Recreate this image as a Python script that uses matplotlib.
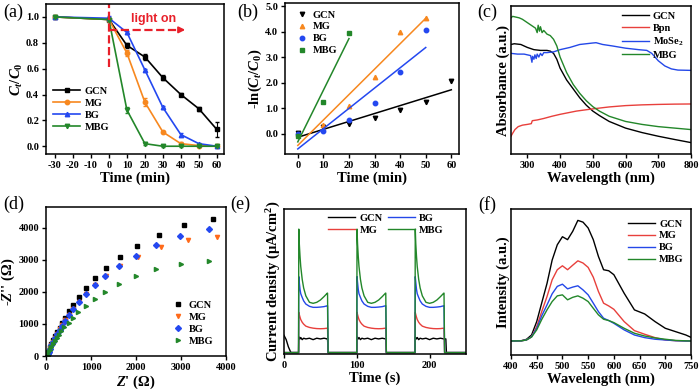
import numpy as np
import matplotlib.pyplot as plt

plt.rcParams['font.family'] = 'Liberation Serif'
plt.rcParams['font.weight'] = 'bold'
plt.rcParams['mathtext.fontset'] = 'custom'
plt.rcParams['mathtext.rm'] = 'Liberation Serif:bold'
plt.rcParams['mathtext.it'] = 'Liberation Serif:bold:italic'
plt.rcParams['mathtext.bf'] = 'Liberation Serif:bold'
plt.rcParams['axes.unicode_minus'] = False
plt.rcParams['axes.linewidth'] = 1.1
plt.rcParams['xtick.major.width'] = 1.0
plt.rcParams['ytick.major.width'] = 1.0
plt.rcParams['xtick.major.size'] = 3
plt.rcParams['ytick.major.size'] = 3
plt.rcParams['xtick.labelsize'] = 7.5
plt.rcParams['ytick.labelsize'] = 7.5

names = ['GCN', 'MG', 'BG', 'MBG']
c_dark = ['black', '#F7881F', '#2448F0', '#23872A']
c_line = ['black', '#E8403C', '#2448E8', '#23872A']

# (a) degradation
t_a = [-30, 0, 10, 20, 30, 40, 50, 60]
a_gcn = [1.0, 0.98, 0.78, 0.69, 0.53, 0.40, 0.29, 0.13]
a_mg = [1.0, 0.98, 0.72, 0.34, 0.11, 0.02, 0.005, 0.0]
a_bg = [1.0, 0.99, 0.88, 0.59, 0.30, 0.09, 0.02, 0.0]
a_mbg = [1.0, 0.98, 0.28, 0.02, 0.0, 0.0, 0.0, 0.0]
e_gcn = [0.005, 0.01, 0.02, 0.02, 0.02, 0.01, 0.015, 0.055]
e_mg = [0.005, 0.01, 0.025, 0.03, 0.01, 0.01, 0.005, 0.005]
e_bg = [0.005, 0.02, 0.01, 0.01, 0.01, 0.01, 0.005, 0.005]
e_mbg = [0.005, 0.01, 0.02, 0.01, 0.005, 0.005, 0.005, 0.005]

# (b) kinetics
t_b = [0, 10, 20, 30, 40, 50, 60]
b_gcn = [0.02, 0.25, 0.37, 0.63, 0.93, 1.24, 2.07]
b_mg = [0.0, 0.33, 1.08, 2.21, 4.0, 4.55]
b_bg = [0.0, 0.12, 0.52, 1.21, 2.42, 4.05]
b_mbg = [-0.1, 1.25, 3.95]

# (c) UV-vis absorbance
wl_gcn = [250, 260, 280, 290, 300, 320, 340, 360, 370, 380, 390, 400, 420, 440, 460, 480, 500, 520, 550, 600, 650, 700, 750, 800]
ab_gcn = [0.74, 0.745, 0.74, 0.73, 0.72, 0.705, 0.70, 0.70, 0.695, 0.68, 0.64, 0.58, 0.50, 0.44, 0.38, 0.33, 0.29, 0.26, 0.22, 0.175, 0.145, 0.12, 0.098, 0.077]
wl_bpn = [250, 255, 262, 272, 285, 300, 312, 315, 330, 350, 375, 400, 450, 500, 550, 600, 650, 700, 750, 800]
ab_bpn = [0.12, 0.14, 0.165, 0.185, 0.195, 0.2, 0.205, 0.225, 0.23, 0.24, 0.255, 0.268, 0.29, 0.305, 0.318, 0.327, 0.332, 0.335, 0.337, 0.338]
wl_mose = [250, 270, 290, 300, 310, 314, 316, 320, 323, 327, 330, 335, 340, 345, 350, 360, 380, 400, 430, 460, 480, 500, 510, 530, 560, 600, 640, 665, 680, 690, 700, 720, 740, 760, 800]
ab_mose = [0.68, 0.675, 0.675, 0.67, 0.665, 0.62, 0.66, 0.64, 0.67, 0.645, 0.675, 0.655, 0.68, 0.665, 0.685, 0.685, 0.69, 0.705, 0.72, 0.74, 0.745, 0.75, 0.752, 0.74, 0.73, 0.715, 0.705, 0.70, 0.68, 0.655, 0.63, 0.595, 0.575, 0.567, 0.565]
wl_mbg = [250, 255, 265, 275, 285, 295, 305, 315, 325, 330, 333, 337, 340, 345, 350, 360, 370, 380, 390, 400, 420, 440, 460, 480, 500, 520, 550, 600, 650, 700, 750, 800]
ab_mbg = [0.92, 0.93, 0.925, 0.92, 0.91, 0.895, 0.88, 0.865, 0.85, 0.82, 0.87, 0.83, 0.86, 0.82, 0.835, 0.81, 0.80, 0.775, 0.73, 0.655, 0.55, 0.47, 0.41, 0.36, 0.32, 0.29, 0.255, 0.22, 0.20, 0.185, 0.175, 0.165]

# (d) Nyquist
zr_gcn = [3720, 3060, 2500, 2030, 1640, 1330, 1090, 890, 740, 600, 500, 420, 350, 300, 250, 200, 160, 120, 90, 60, 40, 25]
zi_gcn = [4270, 4080, 3780, 3440, 3090, 2750, 2420, 2110, 1850, 1600, 1390, 1200, 1030, 880, 750, 620, 500, 380, 270, 170, 80, 20]
zr_mg = [3790, 3150, 2550, 2040, 1640, 1330, 1090, 890, 730, 600, 500, 420, 350, 300, 250, 200, 160, 120, 90, 60, 40, 25]
zi_mg = [3720, 3630, 3410, 3100, 2810, 2510, 2220, 1940, 1690, 1470, 1280, 1110, 960, 830, 700, 570, 450, 340, 240, 150, 70, 15]
zr_bg = [3620, 2980, 2440, 2000, 1620, 1320, 1080, 880, 730, 600, 500, 420, 350, 300, 250, 200, 160, 120, 90, 60, 40, 25]
zi_bg = [3950, 3740, 3450, 3130, 2810, 2510, 2220, 1940, 1690, 1460, 1270, 1100, 950, 820, 690, 560, 440, 330, 230, 140, 60, 10]
zr_mbg = [3630, 2990, 2450, 2010, 1620, 1320, 1080, 880, 720, 600, 500, 410, 340, 290, 240, 190, 150, 110, 80, 55, 35, 20]
zi_mbg = [2960, 2860, 2700, 2490, 2260, 2010, 1770, 1560, 1370, 1190, 1040, 900, 780, 670, 570, 470, 370, 280, 190, 110, 40, 0]

# (e) photocurrent, one on-period (offsets in s after light on)
on_starts = [20, 100, 180]
on_off = [0.3, 1, 2, 3, 5, 7, 10, 15, 20, 25, 30, 35, 39.5]
j_gcn = [0.11, 0.10, 0.095, 0.105, 0.09, 0.10, 0.095, 0.10, 0.09, 0.10, 0.095, 0.10, 0.095]
j_mg = [0.28, 0.265, 0.246, 0.23, 0.211, 0.198, 0.184, 0.175, 0.17, 0.167, 0.166, 0.167, 0.17]
j_bg = [0.529, 0.49, 0.44, 0.41, 0.384, 0.36, 0.338, 0.322, 0.315, 0.315, 0.317, 0.32, 0.326]
j_mbg = [0.86, 0.76, 0.67, 0.6, 0.51, 0.45, 0.395, 0.35, 0.343, 0.35, 0.366, 0.39, 0.414]
t_dark0 = [0, 3, 6, 9, 10]
j_dark0 = [0.12, 0.09, 0.04, 0.005, 0.0]

# (f) PL
wl_pl = [400, 420, 430, 440, 450, 460, 470, 480, 490, 500, 510, 520, 530, 540, 550, 560, 570, 580, 590, 600, 620, 640, 660, 680, 700, 720, 740, 750]
pl_gcn = [0.096, 0.098, 0.107, 0.137, 0.229, 0.36, 0.49, 0.65, 0.755, 0.81, 0.79, 0.847, 0.922, 0.91, 0.87, 0.79, 0.675, 0.584, 0.577, 0.55, 0.423, 0.309, 0.281, 0.229, 0.183, 0.16, 0.137, 0.121]
pl_mg = [0.096, 0.097, 0.103, 0.125, 0.195, 0.3, 0.40, 0.515, 0.584, 0.611, 0.584, 0.615, 0.645, 0.63, 0.60, 0.533, 0.435, 0.355, 0.336, 0.313, 0.229, 0.167, 0.142, 0.119, 0.103, 0.098, 0.096, 0.096]
pl_bg = [0.096, 0.097, 0.103, 0.125, 0.183, 0.27, 0.343, 0.419, 0.47, 0.485, 0.453, 0.465, 0.474, 0.446, 0.412, 0.355, 0.297, 0.252, 0.236, 0.217, 0.172, 0.137, 0.119, 0.108, 0.103, 0.098, 0.096, 0.096]
pl_mbg = [0.096, 0.097, 0.103, 0.123, 0.172, 0.245, 0.309, 0.366, 0.405, 0.412, 0.378, 0.395, 0.405, 0.389, 0.366, 0.32, 0.275, 0.245, 0.236, 0.222, 0.183, 0.149, 0.13, 0.117, 0.108, 0.1, 0.097, 0.096]

W, H = 700, 390
fig = plt.figure(figsize=(7, 3.9), dpi=100)


def box(l, t, r, b):
    return fig.add_axes([l / W, 1 - b / H, (r - l) / W, (b - t) / H])


def style(ax):
    ax.tick_params(direction='out', top=False, right=False, pad=2)
    for lab in ax.get_xticklabels() + ax.get_yticklabels():
        lab.set_fontweight('bold')


lab_kw = dict(fontsize=10.5, fontweight='bold', labelpad=1)
leg_kw = dict(frameon=False, prop={'weight': 'bold', 'size': 7.5}, handletextpad=0.4,
              labelspacing=0.25, borderpad=0.2)

# ---- (a)
ax = box(46, 4, 224, 154)
a_ys = [a_gcn, a_mg, a_bg, a_mbg]
a_es = [e_gcn, e_mg, e_bg, e_mbg]
mk_a = ['s', 'o', '^', 'v']
for y, e, c, m, n in zip(a_ys, a_es, c_dark, mk_a, names):
    ax.errorbar(t_a, y, yerr=e, color=c, fmt='none', capsize=1.5, elinewidth=0.8)
    ax.plot(t_a, y, color=c, marker=m, ms=3.2, lw=1.2, label=n)
ax.set_xlim(-35, 64)
ax.set_ylim(-0.06, 1.1)
ax.set_xticks(range(-30, 61, 10))
ax.set_yticks(np.arange(0, 1.01, 0.2))
ax.yaxis.set_major_formatter('{x:.1f}')
ax.plot([0, 0], [0.61, 1.1], color='#E8202A', ls='--', lw=1.6)
ax.plot([0, 38], [0.9, 0.9], color='#E8202A', ls='--', lw=1.6)
ax.annotate('', xy=(44, 0.9), xytext=(38, 0.9),
            arrowprops=dict(arrowstyle='-|>', color='#E8202A', lw=1.4, mutation_scale=9))
ax.text(12, 0.985, 'light on', color='#E8202A', fontsize=9, fontweight='bold',
        family='Liberation Sans', va='center')
ax.set_xlabel('Time (min)', **lab_kw)
ax.set_ylabel(r'$C_t/C_0$', **lab_kw)
ax.legend(loc='lower left', bbox_to_anchor=(0.0, 0.1), handlelength=2.6, **leg_kw)
style(ax)

# ---- (b)
ax = box(285, 3, 459, 154)
b_xs = [t_b, t_b[:6], t_b[:6], t_b[:3]]
b_ys = [b_gcn, b_mg, b_bg, b_mbg]
mk_b = ['v', '^', 'o', 's']
for x, y, c, m, n in zip(b_xs, b_ys, c_dark, mk_b, names):
    ax.plot(x, y, ls='none', marker=m, ms=3.2, color=c, label=n)
    k, q = np.polyfit(x, y, 1)
    xx = np.array([x[0], x[-1]])
    ax.plot(xx, k * xx + q, color=c, lw=1.1)
ax.set_xlim(-5, 63)
ax.set_ylim(-0.8, 5.12)
ax.set_xticks(range(0, 61, 10))
ax.set_yticks(np.arange(0, 5.01, 1.0))
ax.yaxis.set_major_formatter('{x:.1f}')
ax.set_xlabel('Time (min)', **lab_kw)
ax.set_ylabel(r'-ln($C_t$/$C_0$)', **lab_kw)
ax.legend(loc='upper left', bbox_to_anchor=(0.02, 1.0), handlelength=1.2, **leg_kw)
style(ax)

# ---- (c)
ax = box(511, 6, 691, 154)
c_x = [wl_gcn, wl_bpn, wl_mose, wl_mbg]
c_y = [ab_gcn, ab_bpn, ab_mose, ab_mbg]
c_names = ['GCN', 'Bpn', r'MoSe$_2$', 'MBG']
for x, y, c, n in zip(c_x, c_y, c_line, c_names):
    ax.plot(x, y, color=c, lw=1.0, label=n)
ax.set_xlim(250, 800)
ax.set_ylim(0, 1)
ax.set_xticks(range(300, 801, 100))
ax.set_yticks([])
ax.set_xlabel('Wavelength (nm)', **lab_kw)
ax.set_ylabel('Absorbance (a.u.)', **lab_kw)
ax.legend(loc='upper right', bbox_to_anchor=(1.0, 1.01), handlelength=2.6, **leg_kw)
style(ax)

# ---- (d)
ax = box(46, 207, 226, 356)
d_x = [zr_gcn, zr_mg, zr_bg, zr_mbg]
d_y = [zi_gcn, zi_mg, zi_bg, zi_mbg]
d_c = ['black', '#FF6A1A', '#2448F0', '#23872A']
mk_d = ['s', 'v', 'D', '>']
for x, y, c, m, n in zip(d_x, d_y, d_c, mk_d, names):
    ax.plot(x, y, ls='none', marker=m, ms=3.0, color=c, label=n)
ax.set_xlim(0, 4000)
ax.set_ylim(0, 4650)
ax.set_xticks(range(0, 4001, 1000))
ax.set_yticks(range(0, 4001, 1000))
ax.set_xlabel(r"$Z$' ($\Omega$)", **lab_kw)
ax.set_ylabel(r"-$Z$'' ($\Omega$)", **lab_kw)
ax.legend(loc='lower right', bbox_to_anchor=(0.97, 0.02), handlelength=1.2, **leg_kw)
style(ax)

# ---- (e)
ax = box(284, 209, 466, 354)
for j, c, n in zip([j_gcn, j_mg, j_bg, j_mbg], c_line, names):
    tt, yy = [], []
    if n == 'GCN':
        tt += t_dark0
        yy += j_dark0
    else:
        tt += [0]
        yy += [0]
    for k, s in enumerate(on_starts):
        stop = s + 40 + (2.5 if (n == 'GCN' and k == 2) else 0)
        tt += [s - 1, s] + [s + o for o in on_off] + [stop - 0.2, stop + 0.6]
        yy += [0, 0] + j + [j[-1], 0]
    tt += [250]
    yy += [0]
    ax.plot(tt, yy, color=c, lw=1.0, label=n)
ax.set_xlim(0, 250)
ax.set_ylim(-0.01, 1.0)
ax.set_xticks([0, 100, 200])
ax.set_yticks([])
ax.set_xlabel('Time (s)', **lab_kw)
ax.set_ylabel(r'Current density ($\mathbf{\mu}$A/cm$^2$)', **lab_kw)
ax.legend(ncol=2, loc='upper center', bbox_to_anchor=(0.56, 1.02), handlelength=2.6,
          columnspacing=0.5, **leg_kw)
style(ax)

# ---- (f)
ax = box(511, 209, 691, 355)
for y, c, n in zip([pl_gcn, pl_mg, pl_bg, pl_mbg], c_line, names):
    ax.plot(wl_pl, y, color=c, lw=1.0, label=n)
ax.set_xlim(400, 750)
ax.set_ylim(0, 1)
ax.set_xticks(range(400, 751, 50))
ax.set_yticks([])
ax.set_xlabel('Wavelength (nm)', **lab_kw)
ax.set_ylabel('Intensity (a.u.)', **lab_kw)
ax.legend(loc='upper right', bbox_to_anchor=(1.0, 0.98), handlelength=2.6, **leg_kw)
style(ax)

for s, x, y in [('(a)', 3, 4), ('(b)', 237, 4), ('(c)', 477, 4),
                ('(d)', 3, 196), ('(e)', 230, 196), ('(f)', 478, 196)]:
    fig.text(x / W, 1 - y / H, s, fontsize=13, fontweight='normal', va='top', ha='left')

fig.savefig('out.png', dpi=100)
